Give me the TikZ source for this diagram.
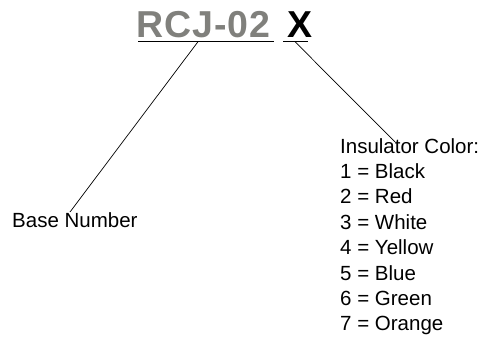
\documentclass[tikz,border=0pt]{standalone}
\usepackage{fontspec}
\setmainfont{Liberation Sans}
\usepackage{xcolor}
\usepackage{tikz}
\usetikzlibrary{positioning}
\definecolor{partgray}{RGB}{128,128,124}
\tikzstyle{partno}=[font=\fontsize{37.5}{40}\selectfont\bfseries,inner sep=0pt,anchor=base west]
\tikzstyle{legend}=[font=\fontsize{20.5}{25.4}\selectfont,inner sep=0pt,align=left]
\tikzstyle{leader}=[line width=0.7pt,black]

\begin{document}
\begin{tikzpicture}[x=1pt,y=-1pt]
    \useasboundingbox (0,0) rectangle (485,339);
    % part number
    \path node[partno,text=partgray] (series) at (136,37.3) {\addfontfeature{LetterSpace=2.5}RCJ-02}
          node[partno,text=black] (color) at (287,37.3) {X};
    % legends
    \path node[legend,anchor=base west] (basenum) at (12,228) {Base Number}
          node[legend,anchor=north west] (insul) at (340,138) {Insulator Color:\\
            1 = Black\\ 2 = Red\\ 3 = White\\ 4 = Yellow\\ 5 = Blue\\ 6 = Green\\ 7 = Orange};
    % underlines and leaders
    \coordinate (seriesL) at (138,41.7);
    \coordinate (seriesR) at (274,41.7);
    \coordinate (colorL) at (283,41.7);
    \coordinate (colorR) at (308,41.7);
    \coordinate (seriesTip) at (198,41.7);
    \coordinate (colorTip) at (295,41.7);
    \coordinate (basenumTip) at (70,212);
    \coordinate (insulTip) at (395,142);
    \draw[leader] (seriesL) -- (seriesR);
    \draw[leader] (colorL) -- (colorR);
    \draw[leader] (seriesTip) -- (basenumTip);
    \draw[leader] (colorTip) -- (insulTip);
\end{tikzpicture}
\end{document}
